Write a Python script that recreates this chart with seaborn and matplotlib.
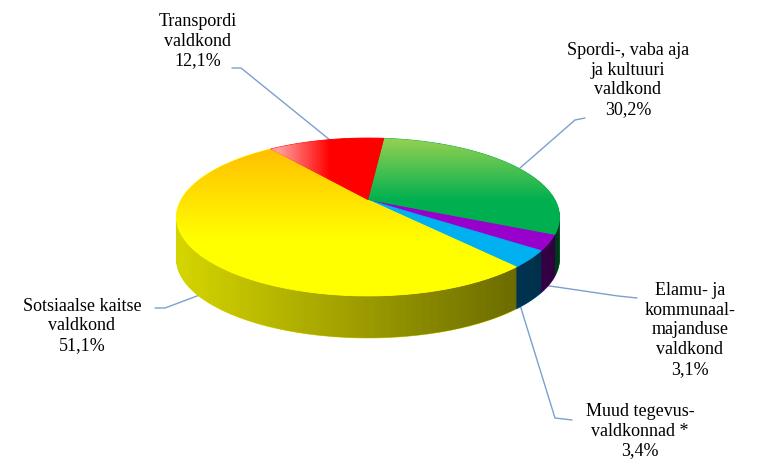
import numpy as np
import matplotlib
matplotlib.use('Agg')
import matplotlib.pyplot as plt
import seaborn as sns
from matplotlib.colors import to_rgb
from matplotlib.path import Path
from matplotlib.patches import PathPatch
from matplotlib.transforms import Transform

# Data (in drawing order, clockwise from the top)
categories = ['Spordi-, vaba aja\nja kultuuri\nvaldkond',
              'Elamu- ja\nkommunaal-\nmajanduse\nvaldkond',
              'Muud tegevus-\nvaldkonnad *',
              'Sotsiaalse kaitse\nvaldkond',
              'Transpordi\nvaldkond']
shares = [30.2, 3.1, 3.4, 51.1, 12.1]

top_colors = ['#00B050', '#9900CC', '#00B0F0', '#FFFF00', '#FF0000']
side_colors = ['#007838', '#6E0090', '#0066A0', '#D4D400', '#A00000']

sns.set_style('white')
plt.rcParams['font.family'] = ['Liberation Serif', 'DejaVu Serif']

# perspective of the pie (pixel units, y pointing down)
CX, AY = 368, 200          # apex of the pie
SX, SY, K = 187, 75.3, 0.215
DEPTH = 42
R = 400.0                  # pie radius in its own plane (large for smooth arcs)
START = 84


class Perspective(Transform):
    input_dims = 2
    output_dims = 2
    is_separable = False
    has_inverse = False

    def __init__(self, shift=0.0):
        super().__init__()
        self.shift = shift

    def transform_non_affine(self, values):
        values = np.asarray(values, dtype=float).reshape(-1, 2)
        u = values[:, 0] / R
        v = values[:, 1] / R
        d = 1 + K * v
        return np.column_stack([CX + SX * u / d, AY - SY * v / d + self.shift])

    def transform_path_non_affine(self, path):
        polys = path.to_polygons(closed_only=False)
        return Path.make_compound_path(*[Path(self.transform_non_affine(p)) for p in polys])


def gradient(c0, c1, axis, lo, hi, alpha0=1.0, alpha1=1.0):
    xx, yy = np.meshgrid(np.arange(760) + 0.5, np.arange(462) + 0.5)
    v = yy if axis == 'y' else xx
    t = np.clip((v - lo) / (hi - lo), 0, 1)[..., None]
    c0 = np.array(list(to_rgb(c0)) + [alpha0])
    c1 = np.array(list(to_rgb(c1)) + [alpha1])
    return c0 * (1 - t) + c1 * t


fig = plt.figure(figsize=(7.6, 4.62), dpi=100)
ax = fig.add_axes([0, 0, 1, 1])


def draw_pie(colors, shift, z):
    wedges, _ = ax.pie(shares, colors=colors, startangle=START, counterclock=False,
                       center=(0, 0), radius=R, wedgeprops=dict(linewidth=0.6))
    for w in wedges:
        w.set_edgecolor(w.get_facecolor())
        w.set_transform(Perspective(shift) + ax.transData)
        w.set_zorder(z)
    return wedges


# side of the pie: stacked layers
n_layers = 42
for k in range(n_layers):
    draw_pie(side_colors, DEPTH * (1 - k / n_layers), 1)

# darkening towards the right on the side
kk = np.arcsin(K)
arc = np.linspace(np.pi + kk, 2 * np.pi - kk, 120)
persp = Perspective(0)
rim = persp.transform_non_affine(np.column_stack([R * np.cos(arc), R * np.sin(arc)]))
verts = np.vstack([rim[:1], rim + [0, DEPTH], rim[-1:], rim[:1]])
side_clip = PathPatch(Path(verts, closed=True), transform=ax.transData, visible=False)
ax.add_patch(side_clip)
im = ax.imshow(gradient('black', 'black', 'x', 180, 555, 0.0, 0.55), extent=(0, 760, 462, 0),
               origin='upper', zorder=2, aspect='auto')
im.set_clip_path(side_clip)

# top face
wedges = draw_pie(top_colors, 0, 3)

# gradients on the top face
shading = {0: ('#92D050', '#00B050', 'y', 140, 200),
           3: ('#FFC000', '#FFFF00', 'y', 150, 240),
           4: ('#FF9A9A', '#FF0000', 'x', 280, 330)}
for i, (c0, c1, axis, lo, hi) in shading.items():
    img = ax.imshow(gradient(c0, c1, axis, lo, hi), extent=(0, 760, 462, 0),
                    origin='upper', zorder=4, aspect='auto')
    img.set_clip_path(wedges[i])

# labels
label_pos = [(628, 80), (690, 330), (640, 431), (82, 326), (198, 41)]
for name, v, (lx, ly) in zip(categories, shares, label_pos):
    pct = f'{v:.1f}'.replace('.', ',') + '%'
    ax.text(lx, ly, f'{name}\n{pct}', ha='center', va='center',
            fontsize=13, color='black', linespacing=1.2, zorder=6)

# leader lines
leaders = [[(585, 118), (575, 120), (520, 168)],
           [(543, 285), (618, 296), (637, 298)],
           [(520, 305), (555, 418), (572, 420)],
           [(155, 308), (165, 308), (205, 293)],
           [(232, 68), (241, 68), (330, 140)]]
for pts in leaders:
    xs, ys = zip(*pts)
    ax.plot(xs, ys, color='#4F81BD', lw=1, alpha=0.75, zorder=0.5)

ax.set_aspect('auto')
ax.set_xlim(0, 760)
ax.set_ylim(462, 0)
ax.axis('off')

fig.savefig('out.png', dpi=100)
